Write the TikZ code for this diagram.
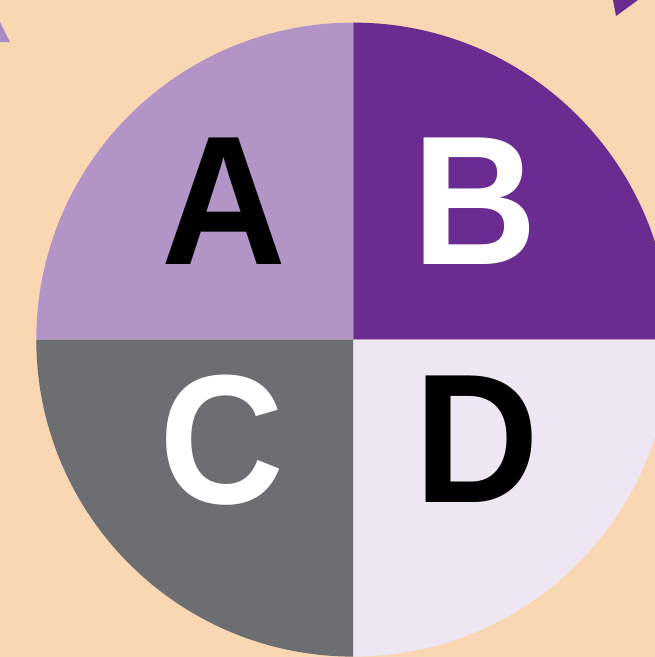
\documentclass[tikz,border=0pt]{standalone}
\usepackage{graphicx}
\usepackage{fontspec}
\setmainfont{Liberation Sans}
\definecolor{bgpeach}{HTML}{FAD7B3}
\definecolor{qa}{HTML}{B294C7}
\definecolor{qb}{HTML}{6A2C91}
\definecolor{qc}{HTML}{6D6E71}
\definecolor{qd}{HTML}{EFE6F3}
\definecolor{triL}{HTML}{A98BC4}
\newcommand{\narrowletter}[1]{\scalebox{0.94}[1]{#1}}
\begin{document}
\begin{tikzpicture}[x=1pt,y=-1pt,
  letter/.style={inner sep=0pt, font=\fontsize{184}{184}\selectfont\bfseries}]
\useasboundingbox (0,0) rectangle (655,657);
\clip (0,0) rectangle (655,657);
\fill[bgpeach] (0,0) rectangle (655,657);
\coordinate (c) at (353.3,339.6);
% quadrants
\fill[qa] (c) -- ++(-317,0) arc[start angle=180,end angle=270,radius=317] -- cycle;
\fill[qb] (c) -- ++(0,-317) arc[start angle=270,end angle=360,radius=317] -- cycle;
\fill[qc] (c) -- ++(0,317) arc[start angle=90,end angle=180,radius=317] -- cycle;
\fill[qd] (c) -- ++(317,0) arc[start angle=0,end angle=90,radius=317] -- cycle;
% partial shapes at the top corners
\fill[triL] (0,22) -- (10,42) -- (0,42) -- cycle;
\fill[qb] (613,0) -- (638,0) -- (616,16) -- cycle;
% letters
\node[letter, text=black] (A) at (224,201) {\narrowletter{A}};
\node[letter, text=white] (B) at (475,201) {\narrowletter{B}};
\node[letter, text=white] (C) at (221.5,440) {\narrowletter{C}};
\node[letter, text=black] (D) at (477,439.5) {\narrowletter{D}};
\end{tikzpicture}
\end{document}
